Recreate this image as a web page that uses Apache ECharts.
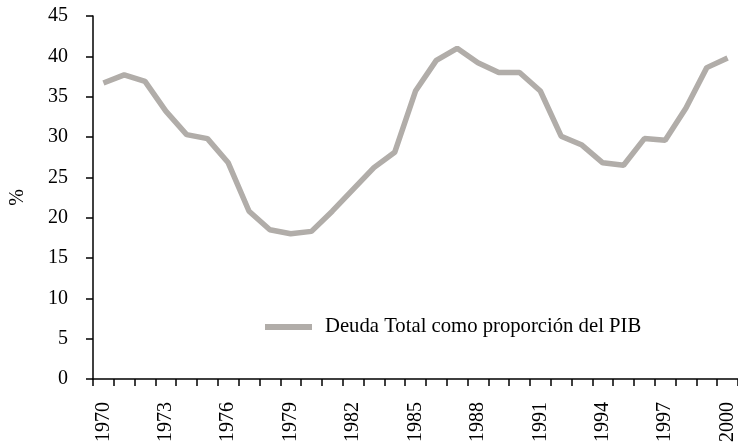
<!DOCTYPE html>
<html>
<head>
<meta charset="utf-8">
<script src="https://cdn.jsdelivr.net/npm/echarts@6/dist/echarts.min.js"></script>
<style>
  html, body { margin: 0; padding: 0; background: #fff; }
  #main { width: 738px; height: 448px; }
</style>
</head>
<body>
<div id="main"></div>
<script>
// years on the x axis
const years = [];
for (let y = 1970; y <= 2000; y++) years.push(String(y));

// Deuda Total como proporción del PIB (%)
const deuda_ls = [36.7, 37.7, 36.9, 33.2, 30.3, 29.8, 26.8, 20.8, 18.5, 18.0,
                  18.3, 20.8, 23.5, 26.2, 28.1, 35.7, 39.5, 41.0, 39.2, 38.0,
                  38.0, 35.7, 30.1, 29.0, 26.8, 26.5, 29.8, 29.6, 33.6, 38.6,
                  39.8];

const seriesName = 'Deuda Total como proporción del PIB';
const font = 'Liberation Serif';
const lineColor = '#b1ada9';

var chartDom = document.getElementById('main');
var myChart = echarts.init(chartDom);
var option = {
  animation: false,
  textStyle: {fontFamily: font, color: '#000'},
  grid: {left: 90, right: 0, top: 16, bottom: 69},
  legend: {
    data: [{name: seriesName, icon: 'rect'}],
    left: 265, top: 316, padding: 0,
    itemWidth: 47, itemHeight: 6,
    textStyle: {fontFamily: font, fontSize: 20.7, color: '#000', lineHeight: 20, padding: [2, 0, 0, 8]}
  },
  xAxis: {
    type: 'category', data: years, boundaryGap: true,
    axisLine: {lineStyle: {color: '#000', width: 1.5}},
    axisTick: {show: true, interval: 0, length: 7, lineStyle: {color: '#000', width: 1.5}},
    axisLabel: {interval: 2, rotate: 90, margin: 23, fontFamily: font, fontSize: 20, color: '#000'},
    splitLine: {show: false}
  },
  yAxis: {
    type: 'value', min: 0, max: 45, interval: 5,
    name: '%', nameLocation: 'middle', nameRotate: 90, nameGap: 65,
    nameTextStyle: {fontFamily: font, fontSize: 20, color: '#000'},
    axisLine: {show: true, lineStyle: {color: '#000', width: 1.5}},
    axisTick: {show: true, length: 7, lineStyle: {color: '#000', width: 1.5}},
    axisLabel: {margin: 25, fontFamily: font, fontSize: 20, color: '#000', padding: [4, 0, 0, 0]},
    splitLine: {show: false}
  },
  series: [
    {name: seriesName, type: 'line', data: deuda_ls, symbol: 'none',
     lineStyle: {color: lineColor, width: 5.5}, itemStyle: {color: lineColor}}
  ]
};
option && myChart.setOption(option);
</script>
</body>
</html>
